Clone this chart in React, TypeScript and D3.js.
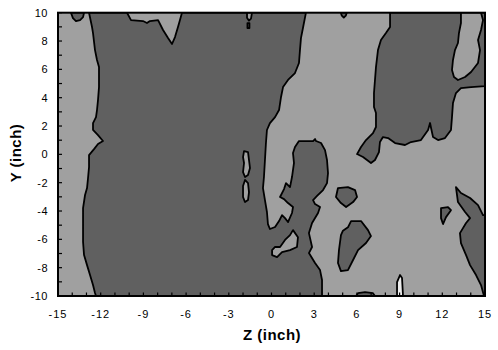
import React from "react";
import * as d3 from "d3";

type Pt = [number, number]; // [Z, Y] in inches

// Dominant (dark) band: large region on the left, connected blob near Z≈2..4
const mainDark: Pt[] = [
  [-12.82, 10], [-12.61, 8.99], [-12.54, 8.56], [-12.4, 7.36], [-12.26, 6.66], [-12.12, 6.16],
  [-12.12, 4.75], [-12.19, 3.83], [-12.26, 3.13], [-12.33, 2.63], [-12.54, 2.21], [-12.54, 1.72],
  [-12.19, 1.36], [-11.84, 0.94], [-12.19, 0.73], [-12.47, 0.37], [-12.82, -0.05], [-12.82, -0.9],
  [-12.89, -1.67], [-12.96, -2.38], [-13.1, -2.87], [-13.24, -3.79], [-13.24, -6.19], [-13.17, -7.11],
  [-12.96, -7.82], [-12.75, -8.52], [-12.54, -9.23], [-12.4, -9.79], [-12.33, -10],
  [3.55, -10], [3.55, -8.87], [3.41, -8.17], [3.06, -7.67], [2.63, -6.97], [2.85, -6.54],
  [2.63, -5.56], [2.85, -4.85], [3.27, -4.14], [3.41, -3.72], [3.06, -3.51], [2.92, -3.23],
  [3.2, -2.94], [3.62, -2.52], [3.9, -2.03], [3.97, -1.32], [3.9, -0.4], [3.76, 0.3],
  [3.48, 0.8], [3.13, 0.94], [3.06, 1.08], [2.92, 0.94], [1.93, 0.94], [1.65, 0.52],
  [1.51, 0.09], [1.58, -0.61], [1.44, -1.6], [1.3, -2.31], [1.02, -2.03], [0.88, -2.45],
  [0.6, -3.01], [0.88, -3.16], [1.16, -3.44], [1.51, -3.72], [1.44, -4.14], [1.16, -4.78],
  [0.95, -4.5], [0.74, -4.29], [0.53, -4.71], [0.25, -5.13], [-0.11, -5.27], [-0.25, -4.92],
  [-0.32, -4.07], [-0.46, -3.23], [-0.6, -2.38], [-0.53, -1.6], [-0.46, -0.4], [-0.39, 0.8],
  [-0.32, 1.72], [-0.11, 2.21], [0.25, 2.63], [0.53, 3.13], [0.67, 4.05], [0.81, 4.75],
  [1.16, 5.25], [1.65, 5.74], [1.93, 6.45], [2.0, 7.36], [2.07, 8.21], [2.21, 8.92], [2.42, 10],
  [-6.29, 10], [-6.43, 9.48], [-6.57, 8.99], [-6.78, 8.28], [-6.99, 7.79], [-7.27, 8.21],
  [-7.62, 8.78], [-7.97, 9.48], [-8.54, 9.41], [-8.75, 9.27], [-9.03, 9.41], [-9.87, 9.48],
  [-10.15, 10],
];

const topLeftDark: Pt[] = [
  [-14.09, 10], [-13.95, 9.62], [-13.74, 9.41], [-13.45, 9.48], [-13.24, 9.69], [-13.17, 10],
];

const topRightDark: Pt[] = [
  [8.33, 10], [8.33, 8.99], [8.04, 8.56], [7.69, 8.07], [7.48, 7.36], [7.34, 6.16], [7.27, 5.25],
  [7.2, 4.33], [7.2, 3.34], [7.34, 2.92], [7.34, 1.93], [7.13, 1.5], [6.64, 1.01], [6.29, 0.52],
  [6.01, 0.02], [6.43, -0.19], [6.99, -0.61], [7.27, -0.4], [7.55, 0.16], [7.62, 0.87],
  [7.83, 1.22], [8.19, 1.15], [8.68, 0.8], [9.38, 0.66], [9.8, 0.87], [10.5, 1.01], [11.0, 1.72],
  [11.14, 2.21], [11.21, 1.86], [11.35, 1.22], [11.7, 1.01], [12.19, 1.15], [12.61, 1.72],
  [12.68, 2.63], [12.75, 3.62], [12.96, 4.33], [13.31, 4.68], [14.02, 4.75], [15, 4.82], [15, 10],
];

const topDip: Pt[] = [
  [4.87, 10], [5.29, 10], [5.22, 9.79], [5.08, 9.65], [4.94, 9.79],
];

const islandA: Pt[] = [
  [4.67, -2.38], [5.37, -2.31], [5.87, -2.52], [6.01, -3.01], [5.73, -3.37], [5.24, -3.72],
  [4.88, -3.44], [4.53, -3.01],
];

const islandB: Pt[] = [
  [5.59, -4.71], [6.29, -4.71], [6.78, -5.35], [6.99, -5.77], [6.64, -6.26], [6.08, -6.76],
  [5.73, -7.46], [5.37, -8.17], [4.88, -8.24], [4.67, -7.67], [4.74, -6.76], [4.88, -5.7],
  [5.02, -5.39], [5.37, -5.15],
];

const islandC: Pt[] = [
  [11.91, -3.8], [12.4, -3.72], [12.61, -3.94], [12.26, -4.43], [12.05, -4.92], [11.91, -4.5],
];

const rightEdgeDark: Pt[] = [
  [12.96, -2.31], [13.31, -2.73], [13.95, -3.08], [14.51, -3.58], [14.86, -4.29], [15, -4.29],
  [15, -10], [14.93, -10], [14.72, -9.23], [14.37, -8.52], [13.95, -7.82], [13.67, -7.11],
  [13.31, -6.26], [13.24, -5.56], [13.67, -4.85], [13.95, -4.5], [13.6, -4.07], [13.1, -3.37],
];

const bottomBump: Pt[] = [
  [5.94, -10], [6.08, -9.8], [6.57, -9.73], [7.13, -9.8], [7.27, -10],
];

// Light pockets inside the dark bands
const lightTopRight: Pt[] = [
  [13.31, 10], [13.31, 9.27], [13.17, 8.56], [13.1, 7.86], [12.89, 7.36], [12.75, 6.66],
  [12.68, 5.95], [12.82, 5.46], [13.1, 5.25], [13.6, 5.46], [14.02, 5.81], [14.51, 6.45],
  [14.65, 7.36], [14.51, 8.07], [14.72, 8.78], [14.86, 9.48], [14.72, 10],
];

const lightSliverUpper: Pt[] = [
  [-1.93, 0.23], [-1.65, 0.16], [-1.58, -0.4], [-1.51, -0.97], [-1.65, -1.46], [-1.86, -1.6],
  [-2.0, -1.25], [-1.93, -0.61], [-2.0, -0.19],
];

const lightSliverLower: Pt[] = [
  [-1.86, -1.81], [-1.65, -2.03], [-1.58, -2.66], [-1.65, -3.23], [-1.86, -3.37], [-2.0, -3.01],
  [-2.0, -2.24],
];

const lightBlob: Pt[] = [
  [1.51, -5.35], [1.86, -5.85], [1.79, -6.54], [1.3, -6.76], [0.74, -6.9], [0.39, -7.25],
  [0.04, -7.11], [0.04, -6.76], [0.25, -6.54], [0.6, -6.54], [0.95, -6.04], [1.3, -5.7],
];

const lightTopNotch: Pt[] = [
  [-1.72, 10], [-1.37, 10], [-1.44, 9.58], [-1.58, 9.44], [-1.72, 9.65],
];

const lightTopSpeck: Pt[] = [
  [-1.69, 9.27], [-1.55, 9.27], [-1.55, 8.92], [-1.69, 8.92],
];

// Highest band: narrow spike near Z=9 at the floor
const whiteSpike: Pt[] = [
  [8.82, -10], [8.82, -9.02], [9.03, -8.52], [9.17, -8.73], [9.24, -10],
];

const xTicks = [-15, -12, -9, -6, -3, 0, 3, 6, 9, 12, 15];
const yTicks = [-10, -8, -6, -4, -2, 0, 2, 4, 6, 8, 10];
const minorX = d3.range(-15, 16, 1);
const minorY = d3.range(-10, 11, 1);

const W = 498;
const H = 350;
const left = 58;
const right = 485;
const top = 12.7;
const bottom = 296;

const DARK = "#606060";
const LIGHT = "#a0a0a0";
const WHITE = "#ececec";

export default function App() {
  const x = d3.scaleLinear().domain([-15, 15]).range([left, right]);
  const y = d3.scaleLinear().domain([-10, 10]).range([bottom, top]);
  const line = d3
    .line<Pt>()
    .x((d) => x(d[0]))
    .y((d) => y(d[1]))
    .curve(d3.curveLinearClosed);

  const region = (pts: Pt[], fill: string, key: string) => (
    <path key={key} d={line(pts) ?? ""} fill={fill} stroke="#000" strokeWidth={1.8} strokeLinejoin="round" />
  );

  const font = "Arial, 'Liberation Sans', sans-serif";

  return (
    <svg width={W} height={H} style={{ position: "absolute", left: 0, top: 0 }}>
      <rect x={0} y={0} width={W} height={H} fill="#fff" />
      <defs>
        <clipPath id="plotClip">
          <rect x={left} y={top} width={right - left} height={bottom - top} />
        </clipPath>
      </defs>
      <rect x={left} y={top} width={right - left} height={bottom - top} fill={LIGHT} />
      <g clipPath="url(#plotClip)">
        {region(mainDark, DARK, "main")}
        {region(topLeftDark, DARK, "tl")}
        {region(topRightDark, DARK, "tr")}
        {region(topDip, DARK, "dip")}
        {region(islandA, DARK, "a")}
        {region(islandB, DARK, "b")}
        {region(islandC, DARK, "c")}
        {region(rightEdgeDark, DARK, "re")}
        {region(bottomBump, DARK, "bb")}
        {region(lightTopRight, LIGHT, "ltr")}
        {region(lightSliverUpper, LIGHT, "lsu")}
        {region(lightSliverLower, LIGHT, "lsl")}
        {region(lightBlob, LIGHT, "lb")}
        {region(lightTopNotch, LIGHT, "ltn")}
        {region(lightTopSpeck, LIGHT, "lts")}
        {region(whiteSpike, WHITE, "ws")}
      </g>
      {/* inward ticks */}
      {minorX.map((t) => (
        <line key={"tx" + t} x1={x(t)} x2={x(t)} y1={bottom} y2={bottom - 3.5} stroke="#000" strokeWidth={1.2} />
      ))}
      {minorY.map((t) => (
        <line key={"ty" + t} x1={left} x2={left + 4} y1={y(t)} y2={y(t)} stroke="#000" strokeWidth={1.2} />
      ))}
      <rect x={left} y={top} width={right - left} height={bottom - top} fill="none" stroke="#000" strokeWidth={2} />
      {xTicks.map((t) => (
        <text key={"lx" + t} x={x(t)} y={318} textAnchor="middle" fontFamily={font} fontSize={11} letterSpacing={1} fill="#000">
          {t}
        </text>
      ))}
      {yTicks.map((t) => (
        <text key={"ly" + t} x={48} y={y(t)} dy="0.35em" textAnchor="end" fontFamily={font} fontSize={11} letterSpacing={0.5} fill="#000">
          {t}
        </text>
      ))}
      <text x={272} y={340} textAnchor="middle" fontFamily={font} fontSize={15} fontWeight="bold" letterSpacing={0.5} fill="#000">
        Z (inch)
      </text>
      <text
        transform={`translate(21, 153) rotate(-90)`}
        textAnchor="middle"
        fontFamily={font}
        fontSize={15}
        fontWeight="bold"
        letterSpacing={0.5}
        fill="#000"
      >
        Y (inch)
      </text>
    </svg>
  );
}
